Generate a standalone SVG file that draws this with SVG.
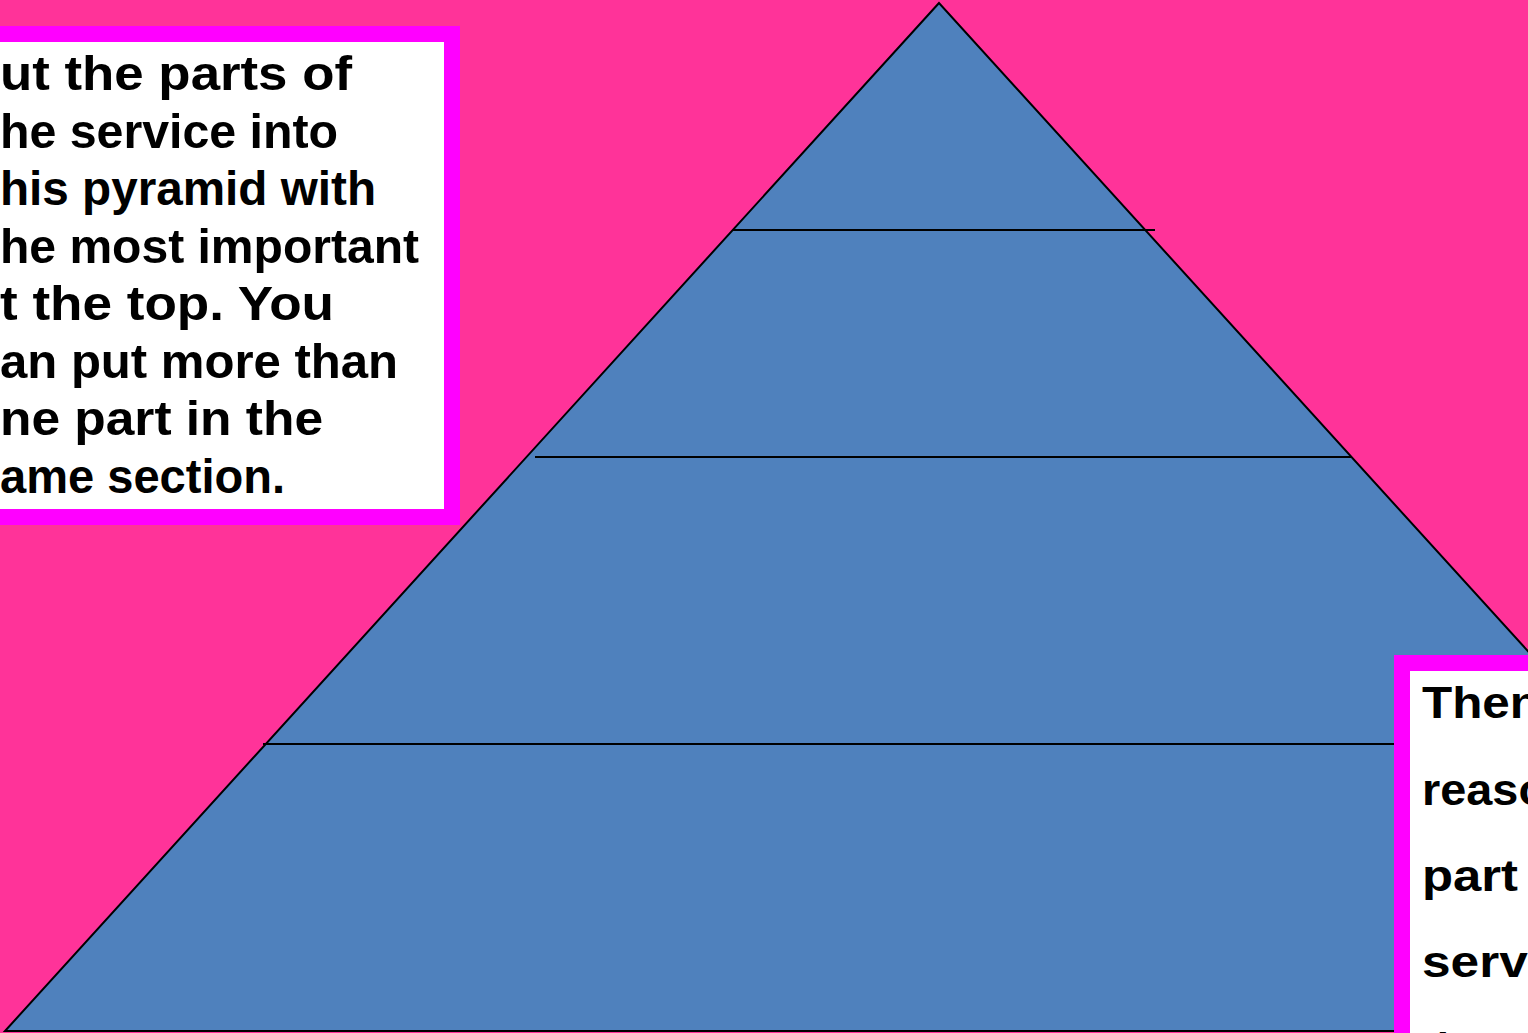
<svg xmlns="http://www.w3.org/2000/svg" width="1528" height="1033" viewBox="0 0 1528 1033">
  <style>
    .lbl { font-family: "Comic Sans MS", "Liberation Sans", "DejaVu Sans", sans-serif; font-weight: bold; fill: #000000; }
    .left { font-size: 48px; }
    .right { font-size: 44px; }
    .divider { stroke: #000000; stroke-width: 2; fill: none; }
    .box { fill: #FFFFFF; stroke: #FF00FF; stroke-width: 16; }
  </style>
  <rect x="0" y="0" width="1528" height="1033" fill="#FF3399"/>
  <g id="pyramid">
    <polygon points="939,3 5,1031 1873,1031" fill="#4F81BD" stroke="#000000" stroke-width="2"/>
  </g>
  <g id="dividers">
    <line class="divider" x1="733" y1="230" x2="1155" y2="230"/>
    <line class="divider" x1="535" y1="457" x2="1352" y2="457"/>
    <line class="divider" x1="263" y1="744" x2="1400" y2="744"/>
  </g>
  <g id="instructions-left">
    <rect class="box" x="-20" y="34" width="472" height="483"/>
    <text class="lbl left" x="0" y="90" textLength="352" lengthAdjust="spacingAndGlyphs">ut the parts of</text>
    <text class="lbl left" x="0" y="147.5" textLength="338" lengthAdjust="spacingAndGlyphs">he service into</text>
    <text class="lbl left" x="0" y="205" textLength="376" lengthAdjust="spacingAndGlyphs">his pyramid with</text>
    <text class="lbl left" x="0" y="262.5" textLength="419" lengthAdjust="spacingAndGlyphs">he most important</text>
    <text class="lbl left" x="0" y="320" textLength="334" lengthAdjust="spacingAndGlyphs">t the top. You</text>
    <text class="lbl left" x="0" y="377.5" textLength="398" lengthAdjust="spacingAndGlyphs">an put more than</text>
    <text class="lbl left" x="0" y="435" textLength="323" lengthAdjust="spacingAndGlyphs">ne part in the</text>
    <text class="lbl left" x="0" y="492.5" textLength="285" lengthAdjust="spacingAndGlyphs">ame section.</text>
  </g>
  <g id="instructions-right">
    <rect class="box" x="1402" y="663" width="200" height="420"/>
    <text class="lbl right" x="1422" y="718" textLength="118" lengthAdjust="spacingAndGlyphs">Then</text>
    <text class="lbl right" x="1422" y="805" textLength="125" lengthAdjust="spacingAndGlyphs">reaso</text>
    <text class="lbl right" x="1422" y="891" textLength="96" lengthAdjust="spacingAndGlyphs">part</text>
    <text class="lbl right" x="1422" y="977" textLength="120" lengthAdjust="spacingAndGlyphs">servi</text>
    <text class="lbl right" x="1422" y="1064">th</text>
  </g>
</svg>
